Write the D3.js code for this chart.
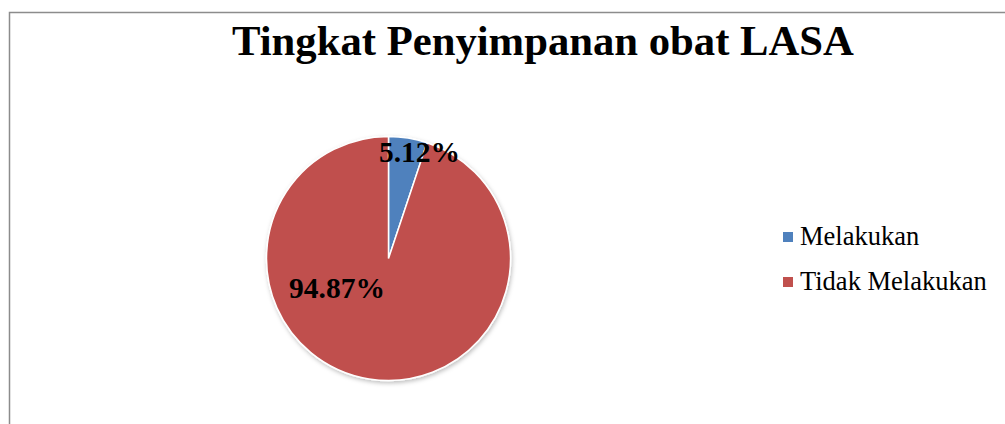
<!DOCTYPE html>
<html>
<head>
<meta charset="utf-8">
<script src="https://cdn.jsdelivr.net/npm/d3@7"></script>
<style>
  body { margin: 0; background: #fff; }
  svg { display: block; font-family: "Liberation Serif", "Times New Roman", serif; }
</style>
</head>
<body>
<svg width="1005" height="424"></svg>
<script>
var categories = ["Melakukan", "Tidak Melakukan"];
var values = [5.12, 94.87];
var labels = ["5.12%", "94.87%"];
var colors = ["#4F81BD", "#C0504D"];

var svg = d3.select("svg");

// chart frame
svg.append("rect")
    .attr("x", 9.5).attr("y", 12.5)
    .attr("width", 1010).attr("height", 430)
    .attr("fill", "#fff")
    .attr("stroke", "#8c8c8c")
    .attr("stroke-width", 1.5);

svg.append("text")
    .attr("x", 543).attr("y", 55)
    .attr("text-anchor", "middle")
    .attr("font-size", 42.7)
    .attr("font-weight", "bold")
    .text("Tingkat Penyimpanan obat LASA");

var cx = 388.5, cy = 258.5, r = 122;

var pie = d3.pie().sort(null).value(d => d);
var arc = d3.arc().innerRadius(0).outerRadius(r);

var defs = svg.append("defs");
var f = defs.append("filter").attr("id", "shadow")
    .attr("x", "-10%").attr("y", "-10%").attr("width", "120%").attr("height", "120%");
f.append("feDropShadow").attr("dx", 1).attr("dy", 2).attr("stdDeviation", 2)
    .attr("flood-color", "#000").attr("flood-opacity", 0.25);

var g = svg.append("g").attr("transform", `translate(${cx},${cy})`);

g.append("g").attr("filter", "url(#shadow)")
    .selectAll("path")
    .data(pie(values))
    .enter().append("path")
    .attr("d", arc)
    .attr("fill", (d, i) => colors[i])
    .attr("stroke", "#fff")
    .attr("stroke-width", 1.5);

// data labels
var labelPos = [[31, -97], [-51.5, 39]];
g.selectAll("text.lbl")
    .data(labels)
    .enter().append("text")
    .attr("class", "lbl")
    .attr("x", (d, i) => labelPos[i][0])
    .attr("y", (d, i) => labelPos[i][1])
    .attr("text-anchor", "middle")
    .attr("font-size", 29.5)
    .attr("font-weight", "bold")
    .text(d => d);

// legend
var legend = svg.append("g").attr("transform", "translate(783,232)");
var item = legend.selectAll("g")
    .data(categories)
    .enter().append("g")
    .attr("transform", (d, i) => `translate(0,${i * 45})`);
item.append("rect")
    .attr("width", 10).attr("height", 10)
    .attr("fill", (d, i) => colors[i]);
item.append("text")
    .attr("x", 17).attr("y", 13)
    .attr("font-size", 26.5)
    .text(d => d);
</script>
</body>
</html>
